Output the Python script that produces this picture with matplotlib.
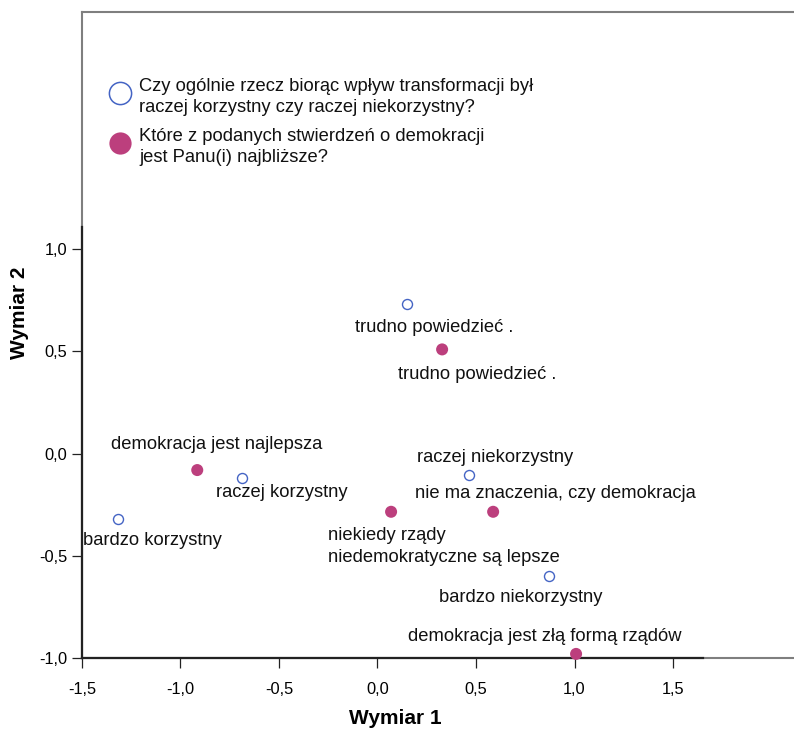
import matplotlib
matplotlib.use("Agg")
import matplotlib.pyplot as plt

plt.rcParams['font.family'] = ['Liberation Sans', 'DejaVu Sans']

# Row points: "Czy ogólnie rzecz biorąc wpływ transformacji był ..."
transf_labels = ["trudno powiedzieć .", "raczej niekorzystny", "raczej korzystny",
                 "bardzo korzystny", "bardzo niekorzystny"]
transf_x = [0.150, 0.467, -0.690, -1.318, 0.873]
transf_y = [0.730, -0.103, -0.119, -0.318, -0.600]

# Column points: "Które z podanych stwierdzeń o demokracji ..."
demo_labels = ["trudno powiedzieć .", "demokracja jest najlepsza",
               "niekiedy rządy\nniedemokratyczne są lepsze",
               "nie ma znaczenia, czy demokracja",
               "demokracja jest złą formą rządów"]
demo_x = [0.328, -0.915, 0.069, 0.587, 1.008]
demo_y = [0.509, -0.081, -0.285, -0.285, -0.980]

legend_labels = ["Czy ogólnie rzecz biorąc wpływ transformacji był\nraczej korzystny czy raczej niekorzystny?",
                 "Które z podanych stwierdzeń o demokracji\njest Panu(i) najbliższe?"]

x_ticks = [-1.5, -1.0, -0.5, 0.0, 0.5, 1.0, 1.5]
y_ticks = [-1.0, -0.5, 0.0, 0.5, 1.0]

# label placement (pixel offsets from the point, alignment)
transf_offsets = [((27, -23), 'center'), ((26, 17), 'center'), ((40, -15), 'center'),
                  ((35, -22), 'center'), ((-29, -21), 'center')]
demo_offsets = [((35, -25), 'center'), ((19, 26), 'center'), ((-63, -35), 'left'),
                ((62, 18), 'center'), ((-31, 17), 'center')]

BLUE = '#4464c4'
MAGENTA = '#bc3f7d'
GRAY = '#7f7f7f'

W, H = 794, 731
fig = plt.figure(figsize=(W / 100, H / 100), dpi=100)
ax = fig.add_axes([82 / W, 73 / H, 712 / W, 646 / H])
ax.set_xlim(-1.5, -1.5 + 712 / 197)
ax.set_ylim(-1.0, -1.0 + 646 / 204.5)

ax.spines['right'].set_visible(False)
for side in ('left', 'top', 'bottom'):
    ax.spines[side].set_color(GRAY)
    ax.spines[side].set_linewidth(1.5)

# solid axis lines over the data range
ax.plot([-1.5, 1.652], [-1.0, -1.0], color='#222222', lw=1.6, clip_on=False, zorder=3)
ax.plot([-1.5, -1.5], [-1.0, 1.108], color='#222222', lw=1.6, clip_on=False, zorder=3)

ax.set_xticks(x_ticks)
ax.set_yticks(y_ticks)
ax.set_xticklabels([f"{v:.1f}".replace('.', ',') for v in x_ticks])
ax.set_yticklabels([f"{v:.1f}".replace('.', ',') for v in y_ticks])
ax.tick_params(axis='x', direction='out', length=7.5, width=0.9, color='#222222',
               labelsize=11.8, pad=9.5)
ax.tick_params(axis='y', direction='out', length=7.5, width=0.9, color='#222222',
               labelsize=11.8, pad=3)

ax.scatter(transf_x, transf_y, s=52, facecolors='white', edgecolors=BLUE,
           linewidths=1.0, zorder=4, clip_on=False)
ax.scatter(demo_x, demo_y, s=75, color=MAGENTA, edgecolors='none', zorder=4, clip_on=False)

for lab, x, y, (off, ha) in zip(transf_labels, transf_x, transf_y, transf_offsets):
    ax.annotate(lab, (x, y), xytext=off, textcoords='offset pixels',
                ha=ha, va='center', fontsize=13.2, color='#111111', linespacing=1.4)
for lab, x, y, (off, ha) in zip(demo_labels, demo_x, demo_y, demo_offsets):
    ax.annotate(lab, (x, y), xytext=off, textcoords='offset pixels',
                ha=ha, va='center', fontsize=13.2, color='#111111', linespacing=1.4)

ax.set_xlabel("Wymiar 1", fontsize=15, fontweight='bold')
ax.xaxis.set_label_coords((395 - 82) / 712, -(718 - 658) / 646)
ax.xaxis.label.set_va('center')
ax.set_ylabel("Wymiar 2", fontsize=15, fontweight='bold')
ax.yaxis.set_label_coords((20 - 82) / 712, (731 - 73 - 313) / 646)
ax.yaxis.label.set_va('center')

# legend drawn inside the frame
leg_markers = [dict(facecolor='white', edgecolor=BLUE, lw=1.1),
               dict(facecolor=MAGENTA, edgecolor=MAGENTA, lw=0)]
leg_y = [93, 143]
for (lab, st, py) in zip(legend_labels, leg_markers, leg_y):
    fig.lines.append(plt.Line2D([120 / W], [1 - py / H], marker='o', markersize=16,
                                markerfacecolor=st['facecolor'],
                                markeredgecolor=st['edgecolor'],
                                markeredgewidth=st['lw'],
                                transform=fig.transFigure, linestyle='none'))
    fig.text(139 / W, 1 - (py + 4) / H, lab, ha='left', va='center', fontsize=13.2,
             color='#111111', linespacing=1.32)

fig.savefig("out.png", dpi=100)
